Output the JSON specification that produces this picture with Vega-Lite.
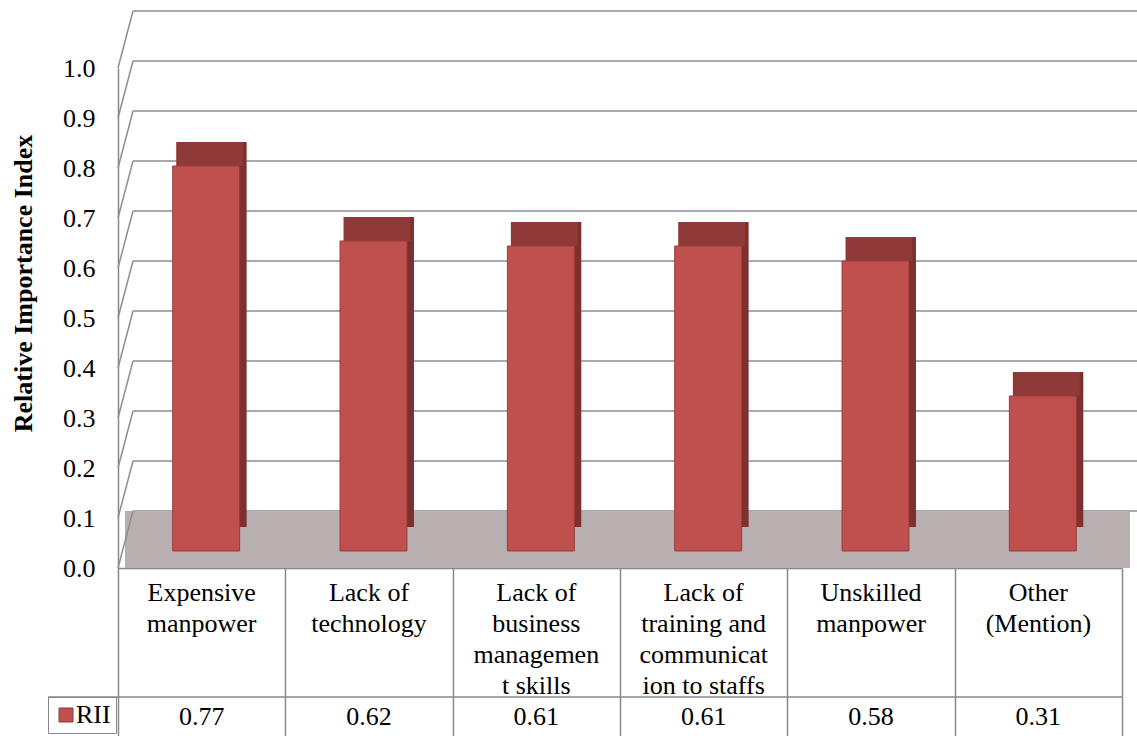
{
  "$schema": "https://vega.github.io/schema/vega-lite/v6.json",
  "width": 1004,
  "height": 500,
  "autosize": {"type": "none"},
  "padding": {"left": 118, "top": 68, "right": 15, "bottom": 168},
  "background": "white",
  "config": {
    "view": {"stroke": null},
    "font": "Times New Roman, Liberation Serif, serif",
    "text": {"font": "Times New Roman, Liberation Serif, serif"},
    "axis": {"labelFont": "Times New Roman, Liberation Serif, serif", "titleFont": "Times New Roman, Liberation Serif, serif"},
    "legend": {"labelFont": "Times New Roman, Liberation Serif, serif"}
  },
  "datasets": {
    "rii": [
      {"category": "Expensive manpower", "label": "Expensive\nmanpower", "RII": 0.77},
      {"category": "Lack of technology", "label": "Lack of\ntechnology", "RII": 0.62},
      {"category": "Lack of business management skills", "label": "Lack of\nbusiness\nmanagemen\nt skills", "RII": 0.61},
      {"category": "Lack of training and communication to staffs", "label": "Lack of\ntraining and\ncommunicat\nion to staffs", "RII": 0.61},
      {"category": "Unskilled manpower", "label": "Unskilled\nmanpower", "RII": 0.58},
      {"category": "Other (Mention)", "label": "Other\n(Mention)", "RII": 0.31}
    ],
    "ticks": [
      {"v": 0.0}, {"v": 0.1}, {"v": 0.2}, {"v": 0.3}, {"v": 0.4}, {"v": 0.5},
      {"v": 0.6}, {"v": 0.7}, {"v": 0.8}, {"v": 0.9}, {"v": 1.0}
    ]
  },
  "resolve": {"axis": {"x": "independent"}},
  "layer": [
    {
      "data": {"name": "ticks"},
      "mark": {"type": "rule", "color": "#8e8e8e", "strokeWidth": 1.5, "xOffset": 15, "x2Offset": 15, "yOffset": -57},
      "encoding": {
        "x": {"value": 0},
        "x2": {"value": "width"},
        "y": {
          "field": "v", "type": "quantitative",
          "scale": {"domain": [0, 1]},
          "axis": {
            "title": "Relative Importance Index", "titleFontSize": 26,
            "titleFontWeight": "bold", "titleColor": "black", "titleX": -95, "titleY": 215,
            "titleBaseline": "middle", "titleAngle": -90,
            "values": [0, 0.1, 0.2, 0.3, 0.4, 0.5, 0.6, 0.7, 0.8, 0.9, 1.0],
            "format": ".1f", "labelFontSize": 26, "labelColor": "black",
            "labelPadding": 23, "ticks": false, "grid": false,
            "domain": true, "domainColor": "#888888", "domainWidth": 1.5
          }
        }
      }
    },
    {
      "data": {"name": "ticks"},
      "mark": {"type": "rect", "color": "#b8b0b0", "xOffset": 7.5, "x2Offset": 7.5, "y2Offset": -57},
      "encoding": {
        "x": {"value": 0},
        "x2": {"value": "width"},
        "y": {"datum": 0, "type": "quantitative"},
        "y2": {"datum": 0}
      }
    },
    {
      "data": {"name": "ticks"},
      "mark": {"type": "rule", "color": "#8e8e8e", "strokeWidth": 1.5, "x2Offset": 15, "y2Offset": -57},
      "encoding": {
        "x": {"value": 0},
        "x2": {"value": 0},
        "y": {"field": "v", "type": "quantitative"},
        "y2": {"field": "v"}
      }
    },
    {
      "data": {"name": "rii"},
      "mark": {"type": "bar", "color": "#7e302e", "width": {"band": 0.4}, "xOffset": 11.5, "yOffset": -41, "y2Offset": -41},
      "encoding": {
        "x": {"field": "category", "type": "nominal", "sort": null, "scale": {"paddingInner": 0, "paddingOuter": 0}, "axis": null},
        "y": {"field": "RII", "type": "quantitative"},
        "y2": {"datum": 0}
      }
    },
    {
      "data": {"name": "rii"},
      "mark": {"type": "bar", "color": "#8f3a38", "width": {"band": 0.4}, "xOffset": 8, "yOffset": -41, "y2Offset": -17},
      "encoding": {
        "x": {"field": "category", "type": "nominal", "sort": null, "axis": null},
        "y": {"field": "RII", "type": "quantitative"},
        "y2": {"field": "RII"}
      }
    },
    {
      "data": {"name": "rii"},
      "mark": {"type": "bar", "stroke": "#9a3d3b", "strokeWidth": 1, "width": {"band": 0.4}, "xOffset": 4.5, "yOffset": -17, "y2Offset": -17},
      "encoding": {
        "x": {
          "field": "category", "type": "nominal", "sort": null,
          "axis": {
            "title": null, "labels": false, "ticks": true, "tickBand": "extent",
            "tickSize": 168, "tickColor": "#888888", "tickWidth": 1.5,
            "domain": true, "domainColor": "#888888", "domainWidth": 1.5, "grid": false
          }
        },
        "y": {"field": "RII", "type": "quantitative"},
        "y2": {"datum": 0},
        "color": {
          "datum": "RII",
          "scale": {"range": ["#c0504d"]},
          "legend": {
            "title": null, "orient": "none", "legendX": -70, "legendY": 629,
            "symbolType": "square", "symbolSize": 196, "symbolStrokeColor": "#8b3a38", "symbolStrokeWidth": 1,
            "symbolFillColor": "#c0504d",
            "labelFontSize": 26, "labelColor": "black", "labelOffset": -3,
            "padding": 5, "strokeColor": "#888888"
          }
        }
      }
    },
    {
      "data": {"name": "rii"},
      "mark": {"type": "text", "fontSize": 26, "color": "black", "baseline": "top", "lineBreak": "\n", "lineHeight": 31, "yOffset": 12},
      "encoding": {
        "x": {"field": "category", "type": "nominal", "sort": null, "axis": null},
        "y": {"datum": 0, "type": "quantitative"},
        "text": {"field": "label"}
      }
    },
    {
      "data": {"name": "rii"},
      "mark": {"type": "text", "fontSize": 26, "color": "black", "baseline": "middle", "yOffset": 149},
      "encoding": {
        "x": {"field": "category", "type": "nominal", "sort": null, "axis": null},
        "y": {"datum": 0, "type": "quantitative"},
        "text": {"field": "RII", "type": "quantitative", "format": ".2f"}
      }
    },
    {
      "data": {"values": [{}]},
      "mark": {"type": "rule", "color": "#888888", "strokeWidth": 1.5, "yOffset": 129, "xOffset": -70, "x2Offset": 0},
      "encoding": {
        "x": {"value": 0},
        "x2": {"value": "width"},
        "y": {"datum": 0, "type": "quantitative"}
      }
    }
  ]
}
